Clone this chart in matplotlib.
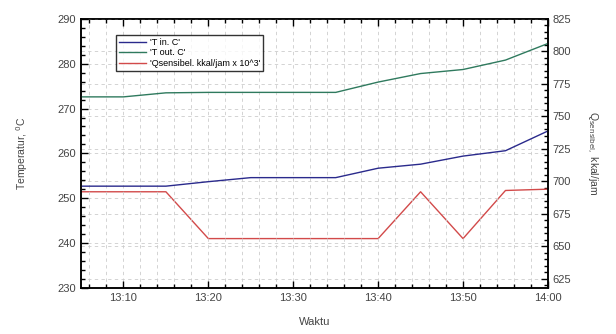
import matplotlib.pyplot as plt
from matplotlib.ticker import MultipleLocator, FixedLocator

plt.rcParams['font.family'] = ['Liberation Sans', 'DejaVu Sans']

# data
waktu = ["13:05", "13:10", "13:15", "13:20", "13:25", "13:30", "13:35",
         "13:40", "13:45", "13:50", "13:55", "14:00"]
t_in = [252.7, 252.7, 252.7, 253.7, 254.6, 254.6, 254.6, 256.7, 257.6, 259.4, 260.6, 265.0]
t_out = [272.6, 272.6, 273.5, 273.6, 273.6, 273.6, 273.6, 275.9, 277.8, 278.7, 280.8, 284.5]
q_sens = [692, 692, 692, 656, 656, 656, 656, 656, 692, 656, 693, 694]
xtick_labels = ["13:10", "13:20", "13:30", "13:40", "13:50", "14:00"]

def to_min(s):
    h, m = s.split(":")
    return (int(h) - 13) * 60 + int(m)

x = [to_min(s) for s in waktu]
xt = [to_min(s) for s in xtick_labels]

fig = plt.figure(figsize=(6.16, 3.34), dpi=100)
ax1 = fig.add_axes([0.1315, 0.1377, 0.758, 0.806])
ax2 = ax1.twinx()

l1, = ax1.plot(x, t_in, color='#2a2a8c', lw=1.0, label="'T in. C'")
l2, = ax1.plot(x, t_out, color='#2f7a5e', lw=1.0, label="'T out. C'")
l3, = ax2.plot(x, q_sens, color='#d24a4a', lw=1.0, label="'Qsensibel. kkal/jam x 10^3'")

ax1.set_xlim(5, 60)
ax1.set_ylim(230, 290)
ax2.set_ylim(618, 825)

ax1.xaxis.set_major_locator(FixedLocator(xt))
ax1.set_xticklabels(xtick_labels)
ax1.xaxis.set_minor_locator(MultipleLocator(2))
ax1.yaxis.set_major_locator(MultipleLocator(10))
ax1.yaxis.set_minor_locator(MultipleLocator(2))
ax2.yaxis.set_major_locator(MultipleLocator(25))
ax2.yaxis.set_minor_locator(MultipleLocator(5))

ax1.tick_params(which='both', direction='in', top=True, labelsize=8, labelcolor='#444444')
ax1.tick_params(which='major', length=5, width=1)
ax1.tick_params(which='minor', length=3, width=1)
ax2.tick_params(which='both', direction='in', labelsize=8, labelcolor='#444444')
ax2.tick_params(which='major', length=5, width=1)
ax2.tick_params(which='minor', length=3, width=1)
for a in (ax1, ax2):
    for sp in a.spines.values():
        sp.set_linewidth(1.1)
        sp.set_color('black')

# dashed grid
ax1.grid(True, which='both', axis='x', ls=(0, (4, 4)), color='#cccccc', lw=0.6)
ax1.grid(True, which='major', axis='y', ls=(0, (4, 4)), color='#cccccc', lw=0.6)
ax2.grid(True, which='major', axis='y', ls=(0, (4, 4)), color='#cccccc', lw=0.6)
ax1.set_axisbelow(True)

ax1.set_xlabel('Waktu', fontsize=8, color='#444444', labelpad=10)
ax1.set_ylabel(r'Temperatur, $^{\rm 0}$C', fontsize=7.5, color='#444444', labelpad=20)
ax2.set_ylabel(r'Q$_{\rm sensibel,}$ kkal/jam', fontsize=7.5, color='#444444',
               rotation=270, labelpad=20)

leg = ax1.legend(handles=[l1, l2, l3], loc='upper left', bbox_to_anchor=(0.066, 0.955),
                 fontsize=6.5, frameon=True, fancybox=False, edgecolor='black',
                 handlelength=3.0, borderpad=0.3, labelspacing=0.15, handletextpad=0.4)
leg.get_frame().set_linewidth(1.0)
ax2.set_zorder(1)
ax1.set_zorder(2)
ax1.patch.set_visible(False)

fig.savefig('out.png', dpi=100)
